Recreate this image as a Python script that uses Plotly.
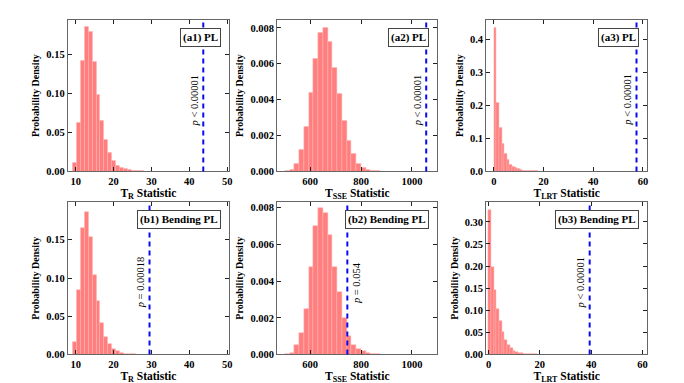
import plotly.graph_objects as go
from plotly.subplots import make_subplots

# histogram bin left edges
tr_edges = [9.2, 10.24, 11.28, 12.32, 13.36, 14.4, 15.44, 16.48, 17.52, 18.56,
            19.6, 20.64, 21.68, 22.72, 23.76, 24.8, 25.84, 26.88]
sse_edges = [500.5, 519.2, 537.9, 556.6, 575.3, 594.0, 612.7, 631.4, 650.1, 668.8,
             687.5, 706.2, 724.9, 743.6, 762.3, 781.0, 799.7, 818.4, 837.1, 855.8]
lrt_edges = [0, 1.05, 2.1, 3.15, 4.2, 5.25, 6.3, 7.35, 8.4, 9.45,
             10.5, 11.55, 12.6, 13.65, 14.7, 15.75, 16.8, 17.85]
tr_width, sse_width, lrt_width = 1.04, 18.7, 1.05

# densities
a1_density = [0.011, 0.0625, 0.142, 0.186, 0.180, 0.141, 0.099, 0.0647, 0.041, 0.0245,
              0.013, 0.0076, 0.0042, 0.003, 0.002, 0.0013, 0.0008, 0.0004]
a2_density = [0.00003, 0.0001, 0.0004, 0.0012, 0.0025, 0.0044, 0.0063, 0.0077, 0.0080, 0.0072,
              0.0058, 0.0043, 0.0028, 0.0017, 0.00097, 0.00045, 0.0002, 0.00008, 0.00003, 0.00001]
a3_density = [0.436, 0.209, 0.133, 0.083, 0.054, 0.034, 0.021, 0.014, 0.0095, 0.007,
              0.005, 0.003, 0.002, 0.0013, 0.0008, 0.0005, 0.0003, 0.0002]
b1_density = [0.0162, 0.084, 0.165, 0.187, 0.154, 0.1047, 0.0697, 0.0415, 0.0235, 0.014,
              0.0073, 0.0043, 0.002, 0.0013, 0.0008, 0.0004]
b2_density = [0.00003, 0.0001, 0.0005, 0.0012, 0.0025, 0.0048, 0.0070, 0.0080, 0.0077, 0.0065,
              0.0048, 0.0034, 0.0020, 0.0010, 0.00054, 0.0003, 0.00018, 0.0001, 0.00005, 0.00002]
b3_density = [0.328, 0.197, 0.147, 0.104, 0.075, 0.051, 0.033, 0.022, 0.014, 0.009,
              0.006, 0.004, 0.0025, 0.0015, 0.001, 0.0006, 0.0003, 0.0002]

observed = [43.7, 1056, 57.4, 29.5, 746, 39.4]
p_labels = ["<i>p</i> &lt; 0.00001", "<i>p</i> &lt; 0.00001", "<i>p</i> &lt; 0.00001",
            "<i>p</i> = 0.00018", "<i>p</i> = 0.054", "<i>p</i> &lt; 0.00001"]
panel_labels = ["(a1) PL", "(a2) PL", "(a3) PL",
                "(b1) Bending PL", "(b2) Bending PL", "(b3) Bending PL"]
x_titles = ["T<sub>R</sub> Statistic", "T<sub>SSE</sub> Statistic", "T<sub>LRT</sub> Statistic"]

W, H = 684, 383
OFF = 8  # page body margin shifts the figure
FONT = "Liberation Serif"

panels = [
    (tr_edges, tr_width, a1_density), (sse_edges, sse_width, a2_density),
    (lrt_edges, lrt_width, a3_density), (tr_edges, tr_width, b1_density),
    (sse_edges, sse_width, b2_density), (lrt_edges, lrt_width, b3_density),
]
x_ranges = [[7.9, 50.5], [470, 1100], [-3.1, 61.7], [7.9, 50.5], [470, 1100], [-0.9, 61.8]]
y_ranges = [[0, 0.195], [0, 0.00845], [0, 0.46], [0, 0.1995], [0, 0.00832], [0, 0.345]]
y_dtick = [0.05, 0.002, 0.1, 0.05, 0.002, 0.05]
y_fmt = [".2f", ".3f", ".1f", ".2f", ".3f", ".2f"]
x_dtick = [10, 200, 20, 10, 200, 20]
text_side = [-1, -1, -1, -1, 1, -1]

col_px = [(68, 230), (278.3, 439.3), (488.3, 650)]
row_px = [(20, 174), (205, 360)]

fig = make_subplots(rows=2, cols=3)

for i, (edges, width, dens) in enumerate(panels):
    r, c = i // 3 + 1, i % 3 + 1
    fig.add_trace(
        go.Bar(
            x=edges[:len(dens)], y=dens, width=width, offset=0,
            marker=dict(color="#ff7f7f", line=dict(color="#ffb3b3", width=0.5)),
            showlegend=False,
        ),
        row=r, col=c,
    )
    n = "" if i == 0 else str(i + 1)
    x0, x1 = [v - OFF for v in col_px[c - 1]]
    y0, y1 = [v - OFF for v in row_px[r - 1]]
    axis_common = dict(
        showline=True, linecolor="#666", linewidth=1, mirror="ticks",
        ticks="inside", ticklen=4, tickwidth=1, tickcolor="#222",
        showgrid=False, zeroline=False,
        tickfont=dict(family=FONT, size=10.5, color="black", weight="bold"),
    )
    fig.update_layout({
        "xaxis" + n: dict(
            domain=[x0 / W, x1 / W], range=x_ranges[i], dtick=x_dtick[i],
            tick0=0, title=dict(text=x_titles[c - 1], standoff=0,
                                font=dict(family=FONT, size=11.5, color="black", weight="bold")),
            **axis_common),
        "yaxis" + n: dict(
            domain=[1 - y1 / H, 1 - y0 / H], range=y_ranges[i], dtick=y_dtick[i],
            tick0=0, tickformat=y_fmt[i],
            title=dict(text="Probability Density", standoff=4,
                       font=dict(family=FONT, size=10, color="black", weight="bold")),
            **axis_common),
    })
    xr = "x" + n
    fig.add_shape(type="line", xref=xr, yref=f"y{n} domain", x0=observed[i], x1=observed[i],
                  y0=0, y1=1, line=dict(color="#0a0aee", width=2, dash="5px,4px"))
    fig.add_annotation(
        xref=xr, yref=f"y{n} domain", x=observed[i], y=0.47, text=p_labels[i],
        textangle=-90, showarrow=False, xshift=9 * text_side[i],
        font=dict(family=FONT, size=10.5, color="black"),
    )
    fig.add_annotation(
        xref=f"x{n} domain", yref=f"y{n} domain", x=1, y=1, xshift=-8, yshift=-8,
        xanchor="right", yanchor="top", text=panel_labels[i], showarrow=False,
        bordercolor="#444", borderwidth=1, borderpad=2, bgcolor="white",
        font=dict(family=FONT, size=11, color="black", weight="bold"),
    )

fig.update_layout(
    width=W, height=H, margin=dict(l=0, r=0, t=0, b=0),
    paper_bgcolor="white", plot_bgcolor="white", bargap=0,
)

fig.write_html("out.html")
